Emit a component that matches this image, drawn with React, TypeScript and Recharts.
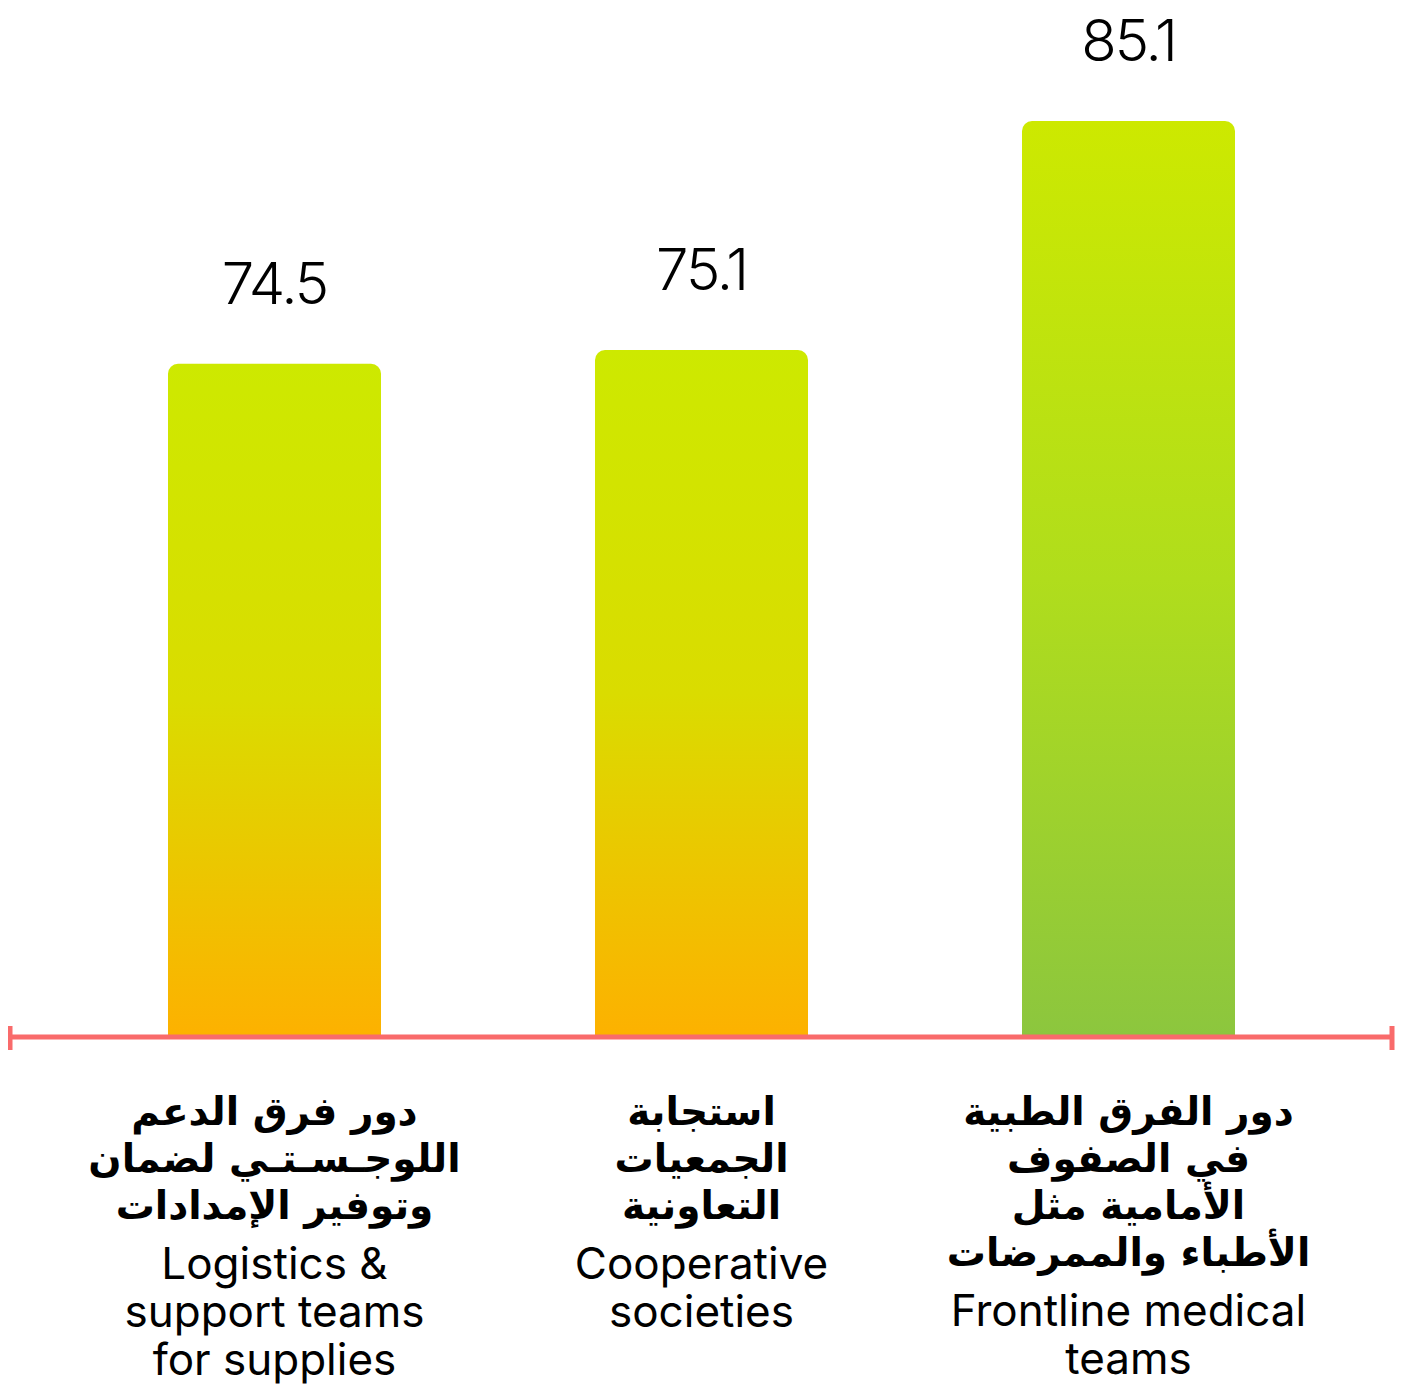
import React from "react";
import { BarChart, Bar, XAxis, YAxis, Cell, LabelList, Customized } from "recharts";

const categories = [
  "Logistics & support teams for supplies",
  "Cooperative societies",
  "Frontline medical teams",
];
const values = [74.5, 75.1, 85.1];
const arabicLines = [
  ["دور فرق الدعم", "اللوجـسـتـي لضمان", "وتوفير الإمدادات"],
  ["استجابة", "الجمعيات", "التعاونية"],
  ["دور الفرق الطبية", "في الصفوف", "الأمامية مثل", "الأطباء والممرضات"],
];
const englishLines = [
  ["Logistics &", "support teams", "for supplies"],
  ["Cooperative", "societies"],
  ["Frontline medical", "teams"],
];
const gradients = ["gradOrange", "gradOrange", "gradGreen"];

const data = categories.map((name, i) => ({ name, value: values[i] }));

const CHART_W = 1390;
const CHART_H = 1386;
const MARGIN = { top: 42, right: 6, bottom: 0, left: 2 };
const XAXIS_H = 357;
const AXIS_COLOR = "#f96b6b";

const CategoryTick = (props: any) => {
  const { x, y, payload } = props;
  const idx = payload.index ?? categories.indexOf(payload.value);
  const ar = arabicLines[idx] || [];
  const en = englishLines[idx] || [];
  const arStart = 88;
  const arPitch = 47;
  const enStart = arStart + (ar.length - 1) * arPitch + 60;
  const enPitch = 48;
  return (
    <g>
      {ar.map((t, i) => (
        <text
          key={"a" + i}
          x={x}
          y={y + arStart + i * arPitch}
          textAnchor="middle"
          direction="rtl"
          fontFamily="'DejaVu Sans', sans-serif"
          fontWeight={700}
          fontSize={39}
          fill="#000"
        >
          {t}
        </text>
      ))}
      {en.map((t, i) => (
        <text
          key={"e" + i}
          x={x}
          y={y + enStart + i * enPitch}
          textAnchor="middle"
          fontFamily="Inter, sans-serif"
          fontSize={44}
          fill="#000"
        >
          {t}
        </text>
      ))}
    </g>
  );
};

const ValueLabel = (props: any) => {
  const { x, y, width, value } = props;
  return (
    <text
      x={x + width / 2}
      y={y - 60}
      textAnchor="middle"
      fontFamily="Inter, sans-serif"
      fontWeight={300}
      fontSize={58}
      letterSpacing={-2}
      fill="#000"
    >
      {value}
    </text>
  );
};

const AxisEnds = () => {
  const yBase = CHART_H - XAXIS_H - MARGIN.bottom;
  const left = MARGIN.left;
  const right = CHART_W - MARGIN.right;
  return (
    <g>
      <rect x={left - 2.5} y={yBase - 11} width={5} height={24} fill={AXIS_COLOR} />
      <rect x={right - 2.5} y={yBase - 11} width={5} height={24} fill={AXIS_COLOR} />
    </g>
  );
};

export default function App() {
  return (
    <div style={{ width: CHART_W, height: CHART_H, background: "#fff" }}>
      <BarChart width={CHART_W} height={CHART_H} data={data} margin={MARGIN}>
        <defs>
          <linearGradient id="gradOrange" x1="0" y1="0" x2="0" y2="1">
            <stop offset="0%" stopColor="#cde900" />
            <stop offset="50%" stopColor="#dadc00" />
            <stop offset="100%" stopColor="#fdb100" />
          </linearGradient>
          <linearGradient id="gradGreen" x1="0" y1="0" x2="0" y2="1">
            <stop offset="0%" stopColor="#cde900" />
            <stop offset="50%" stopColor="#b0dd1c" />
            <stop offset="100%" stopColor="#8cc63e" />
          </linearGradient>
        </defs>
        <YAxis hide type="number" domain={[45.1, 88.2]} allowDataOverflow />
        <Bar dataKey="value" barSize={213} radius={[10, 10, 0, 0]} isAnimationActive={false}>
          {data.map((d, i) => (
            <Cell key={d.name} fill={`url(#${gradients[i]})`} />
          ))}
          <LabelList dataKey="value" content={<ValueLabel />} />
        </Bar>
        <XAxis
          dataKey="name"
          height={XAXIS_H}
          padding={{ left: 51, right: 50 }}
          axisLine={{ stroke: AXIS_COLOR, strokeWidth: 5 }}
          tickLine={false}
          tickSize={0}
          tickMargin={0}
          interval={0}
          tick={<CategoryTick />}
        />
        <Customized component={<AxisEnds />} />
      </BarChart>
    </div>
  );
}
